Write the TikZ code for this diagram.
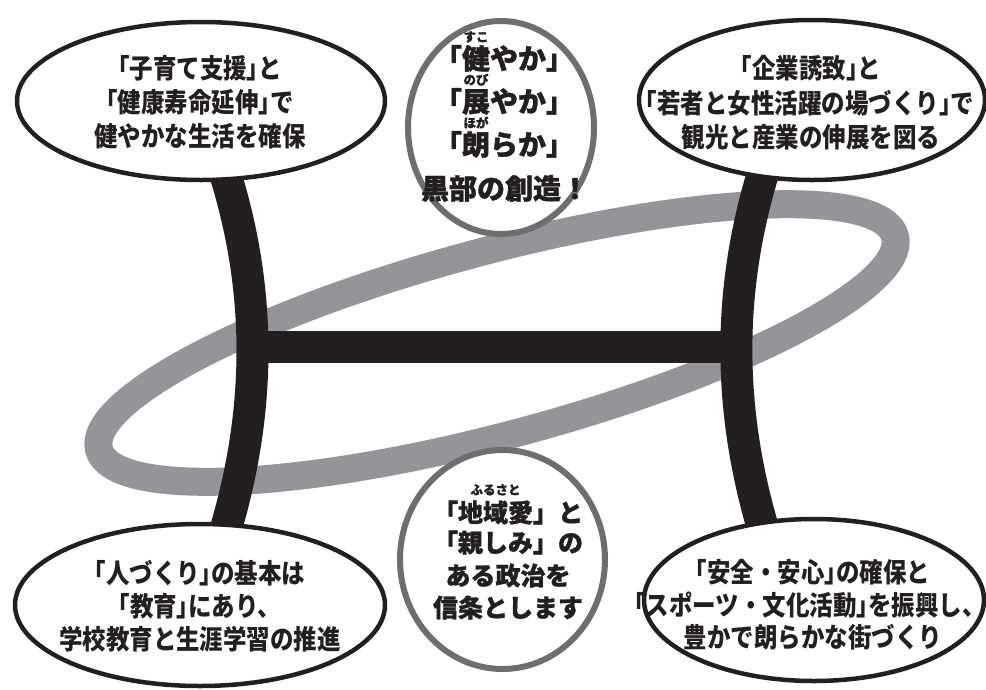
\documentclass[tikz,border=0pt]{standalone}
\usepackage{fontspec}
\newfontfamily\jpe{Noto Sans CJK JP}[FakeStretch=0.87]
\newfontfamily\jpc{Noto Sans CJK JP}[FakeBold=1.2]
\usetikzlibrary{shapes.geometric}
\definecolor{ink}{HTML}{231F20}
\definecolor{ringgray}{HTML}{939598}
\definecolor{circgray}{HTML}{6D6E71}
\newcommand\Lq{\kern-.45em「}
\newcommand\Rq{」\kern-.45em}
\newcommand\furi[3]{\ooalign{#1\cr\hidewidth\raisebox{#3}{\fontsize{12.5}{12.5}\selectfont #2}\hidewidth\cr}}
\tikzset{
  bubble/.style={draw=ink, line width=4.5pt, fill=white, ellipse, inner sep=0pt},
  circ/.style={draw=circgray, line width=6pt, fill=white, ellipse, inner sep=0pt},
  bar/.style={draw=ink, line width=32pt},
  ring/.style={draw=ringgray, line width=28pt},
  etext/.style={font=\jpe\bfseries\fontsize{27}{34}\selectfont, text=ink, inner sep=0pt, anchor=base},
  ctext/.style={font=\jpc\bfseries\fontsize{28}{34}\selectfont, text=ink, inner sep=0pt, anchor=base},
  btext/.style={font=\jpc\bfseries\fontsize{25}{31}\selectfont, text=ink, inner sep=0pt, anchor=base},
}
\begin{document}
\begin{tikzpicture}[x=1pt, y=-1pt]
\useasboundingbox (0,0) rectangle (986,689);
\fill[white] (0,0) rectangle (986,689);
% ring
\draw[ring, rotate around={15:(497,343)}] (497,343) ellipse [x radius=412, y radius=92];
% H structure
\coordinate (lt) at (224,170);
\coordinate (lb) at (224,535);
\coordinate (rt) at (764,170);
\coordinate (rb) at (765,535);
\coordinate (lm) at (252,347);
\coordinate (rm) at (736,347);
\draw[bar] (lt) .. controls (262,290) and (262,410) .. (lb);
\draw[bar] (rt) .. controls (727,290) and (727,410) .. (rb);
\draw[bar] (lm) -- (rm);
% bubbles
\node[bubble, minimum width=368, minimum height=158] (tl) at (201,101) {};
\node[bubble, minimum width=346, minimum height=160] (tr) at (812,100) {};
\node[bubble, minimum width=370, minimum height=162] (bl) at (200,605) {};
\node[bubble, minimum width=340, minimum height=162] (br) at (814,600) {};
% circles
\node[circ, minimum width=186, minimum height=213] (tc) at (501,127.5) {};
\node[circ, minimum width=205, minimum height=219] (bc) at (502.5,559.5) {};
% texts top-left
\node[etext] (tl1) at (200,78) {\Lq 子育て支援\Rq と};
\node[etext] (tl2) at (200,112) {\Lq 健康寿命延伸\Rq で};
\node[etext] (tl3) at (200,146) {健やかな生活を確保};
% texts top-right
\node[etext] (tr1) at (811,78) {\Lq 企業誘致\Rq と};
\node[etext] (tr2) at (810,113) {\Lq 若者と女性活躍の場づくり\Rq で};
\node[etext] (tr3) at (811,147) {観光と産業の伸展を図る};
% texts bottom-left
\node[etext] (bl1) at (200,583) {\Lq 人づくり\Rq の基本は};
\node[etext] (bl2) at (200,616) {\Lq 教育\Rq にあり、};
\node[etext] (bl3) at (200,649) {学校教育と生涯学習の推進};
% texts bottom-right
\node[etext] (br1) at (813,582) {\Lq 安全・安心\Rq の確保と};
\node[etext] (br2) at (810,615) {\Lq スポーツ・文化活動\Rq を振興し、};
\node[etext] (br3) at (813,647) {豊かで朗らかな街づくり};
% top circle
\node[ctext] (tc1) at (504,69) {\Lq\furi{健}{すこ}{0.98em}やか\Rq};
\node[ctext] (tc2) at (504,112) {\Lq\furi{展}{のび}{0.98em}やか\Rq};
\node[ctext] (tc3) at (504,155) {\Lq\furi{朗}{ほが}{0.98em}らか\Rq};
\node[ctext] (tc4) at (505,199) {黒部の創造！};
% bottom circle
\node[btext] (bc1) at (508,522) {「\furi{地域愛}{ふるさと}{1.1em}」と};
\node[btext] (bc2) at (508,552) {「親しみ」の};
\node[btext] (bc3) at (508,585) {ある政治を};
\node[btext] (bc4) at (508,617) {信条とします};
\end{tikzpicture}
\end{document}
